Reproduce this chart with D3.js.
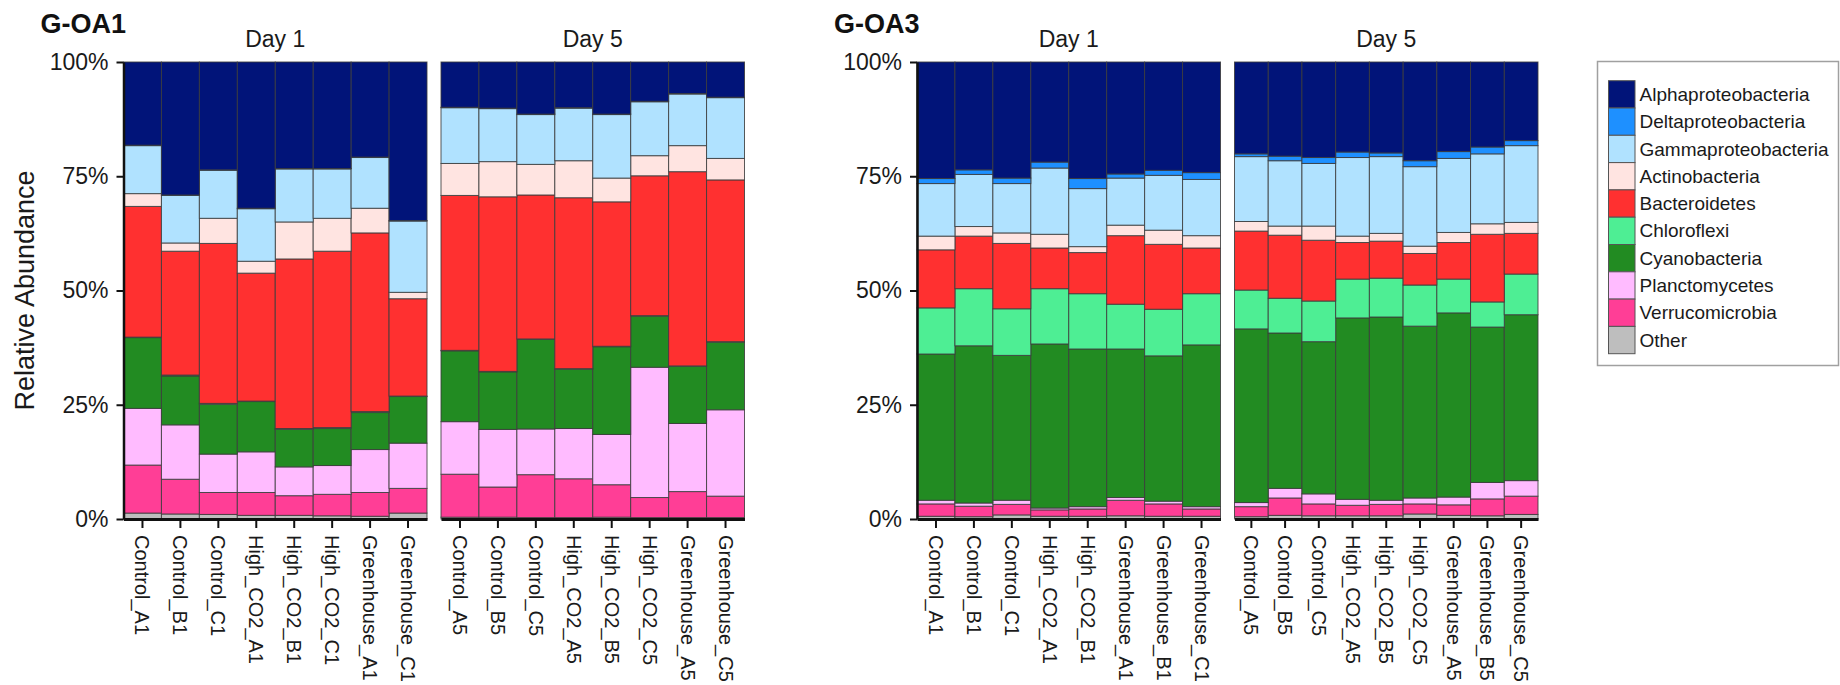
<!DOCTYPE html>
<html>
<head>
<meta charset="utf-8">
<script src="https://cdn.jsdelivr.net/npm/d3@7"></script>
<style>
  html, body { margin: 0; padding: 0; background: #fff; }
  svg { display: block; font-family: "Liberation Sans", Arial, Helvetica, sans-serif; }
</style>
</head>
<body>
<svg id="chart" width="1840" height="685"></svg>
<script>
// Taxa, listed top of legend first (top of each stacked bar first)
const taxa = ["Alphaproteobacteria", "Deltaproteobacteria", "Gammaproteobacteria", "Actinobacteria",
  "Bacteroidetes", "Chloroflexi", "Cyanobacteria", "Planctomycetes", "Verrucomicrobia", "Other"];
const taxaColors = ["#011479", "#1e90ff", "#b0e2ff", "#ffe4e1", "#ff3030",
  "#4eee94", "#228b22", "#ffbbff", "#ff3e96", "#bebebe"];

const yTicks = [0, 25, 50, 75, 100];
const yTickLabels = ["0%", "25%", "50%", "75%", "100%"];

// Sample names per panel
const oa1Day1Samples = ["Control_A1", "Control_B1", "Control_C1", "High_CO2_A1", "High_CO2_B1", "High_CO2_C1", "Greenhouse_A1", "Greenhouse_C1"];
const oa1Day5Samples = ["Control_A5", "Control_B5", "Control_C5", "High_CO2_A5", "High_CO2_B5", "High_CO2_C5", "Greenhouse_A5", "Greenhouse_C5"];
const oa3Day1Samples = ["Control_A1", "Control_B1", "Control_C1", "High_CO2_A1", "High_CO2_B1", "Greenhouse_A1", "Greenhouse_B1", "Greenhouse_C1"];
const oa3Day5Samples = ["Control_A5", "Control_B5", "Control_C5", "High_CO2_A5", "High_CO2_B5", "High_CO2_C5", "Greenhouse_A5", "Greenhouse_B5", "Greenhouse_C5"];

// Relative abundance (%) per sample, values in taxa order
const oa1Day1 = [
  [18.2, 0.1, 10.5, 2.8, 28.6, 0.1, 15.5, 12.4, 10.5, 1.3],
  [29.1, 0.1, 10.4, 1.8, 27.1, 0.2, 10.7, 11.9, 7.6, 1.1],
  [23.6, 0.1, 10.5, 5.5, 35.0, 0.2, 10.9, 8.4, 4.8, 1.0],
  [32.0, 0.1, 11.5, 2.6, 28.0, 0.1, 11.0, 8.9, 5.0, 0.8],
  [23.3, 0.1, 11.6, 8.1, 37.1, 0.2, 8.2, 6.3, 4.3, 0.8],
  [23.3, 0.1, 10.8, 7.2, 38.6, 0.2, 8.1, 6.3, 4.7, 0.7],
  [20.8, 0.1, 11.1, 5.4, 39.1, 0.2, 8.1, 9.4, 5.2, 0.6],
  [34.7, 0.1, 15.6, 1.4, 21.3, 0.1, 10.2, 9.9, 5.4, 1.3]
];
const oa1Day5 = [
  [9.9, 0.1, 12.2, 7.0, 33.9, 0.1, 15.5, 11.5, 9.4, 0.4],
  [10.1, 0.1, 11.6, 7.7, 38.2, 0.1, 12.6, 12.6, 6.6, 0.4],
  [11.4, 0.1, 10.9, 6.7, 31.5, 0.1, 19.6, 10.0, 9.4, 0.3],
  [10.0, 0.1, 11.5, 8.1, 37.4, 0.1, 13.0, 11.0, 8.5, 0.3],
  [11.4, 0.1, 13.9, 5.2, 31.6, 0.1, 19.2, 11.0, 7.1, 0.4],
  [8.6, 0.1, 11.8, 4.4, 30.6, 0.1, 11.2, 28.5, 4.4, 0.3],
  [6.9, 0.1, 11.3, 5.7, 42.5, 0.1, 12.5, 14.9, 5.7, 0.3],
  [7.7, 0.1, 13.3, 4.7, 35.4, 0.1, 14.8, 18.9, 4.7, 0.3]
];
const oa3Day1 = [
  [25.5, 1.1, 11.5, 3.0, 12.7, 10.1, 32.0, 0.8, 2.7, 0.6],
  [23.6, 1.0, 11.4, 2.1, 11.5, 12.5, 34.4, 0.7, 2.3, 0.5],
  [25.4, 1.2, 10.8, 2.3, 14.3, 10.2, 31.7, 0.9, 2.3, 0.9],
  [21.9, 1.3, 14.5, 3.0, 8.9, 12.1, 35.9, 0.4, 1.4, 0.6],
  [25.5, 2.2, 12.7, 1.3, 9.0, 12.1, 34.5, 0.5, 1.6, 0.6],
  [24.5, 0.9, 10.3, 2.3, 15.0, 9.8, 32.5, 0.6, 3.4, 0.7],
  [23.7, 1.1, 12.0, 3.1, 14.2, 10.2, 31.8, 0.6, 2.7, 0.6],
  [24.2, 1.5, 12.3, 2.7, 10.0, 11.2, 35.4, 0.5, 1.6, 0.6]
];
const oa3Day5 = [
  [20.1, 0.6, 14.2, 2.1, 12.9, 8.5, 38.0, 0.9, 2.2, 0.5],
  [20.6, 1.0, 14.3, 2.0, 13.8, 7.6, 34.0, 2.1, 3.8, 0.8],
  [20.9, 1.3, 13.7, 3.1, 13.3, 8.9, 33.3, 2.2, 2.6, 0.7],
  [19.7, 1.2, 17.2, 1.4, 8.0, 8.5, 39.7, 1.3, 2.3, 0.7],
  [19.9, 0.8, 16.8, 1.7, 8.1, 8.5, 40.1, 0.9, 2.5, 0.7],
  [21.6, 1.3, 17.4, 1.6, 6.9, 9.0, 37.6, 1.3, 2.2, 1.1],
  [19.6, 1.5, 16.2, 2.2, 8.0, 7.4, 40.3, 1.7, 2.3, 0.8],
  [18.6, 1.5, 15.3, 2.3, 14.8, 5.5, 34.0, 3.6, 3.7, 0.7],
  [17.2, 1.1, 16.8, 2.4, 8.9, 8.9, 36.3, 3.4, 4.0, 1.0]
];

const svg = d3.select("#chart");
const plotTop = 62, plotBottom = 519, panelW = 303.5, panelGap = 14;
const color = d3.scaleOrdinal().domain(taxa).range(taxaColors);
const y = d3.scaleLinear().domain([0, 100]).range([plotBottom, plotTop]);
// Stack bottom-up: Other first, Alphaproteobacteria last
const stack = d3.stack().keys(taxa.slice().reverse());

function drawPanel(g, x0, label, samples, rows) {
  const x = d3.scaleBand().domain(samples).range([x0, x0 + panelW]).padding(0);
  const records = rows.map((r, i) => {
    const o = { sample: samples[i] };
    taxa.forEach((t, j) => { o[t] = r[j]; });
    return o;
  });
  const series = stack(records);

  g.append("g").selectAll("g").data(series).join("g")
    .attr("fill", d => color(d.key))
    .selectAll("rect").data(d => d).join("rect")
    .attr("x", d => x(d.data.sample))
    .attr("width", x.bandwidth())
    .attr("y", d => y(d[1]))
    .attr("height", d => y(d[0]) - y(d[1]))
    .attr("stroke", "#3c3c3c")
    .attr("stroke-opacity", 0.85)
    .attr("stroke-width", 1);

  // x axis with rotated sample names
  const ax = g.append("g").attr("transform", `translate(0,${plotBottom})`)
    .call(d3.axisBottom(x).tickSize(9).tickPadding(0).tickSizeOuter(0));
  ax.select(".domain").attr("stroke", "#111").attr("stroke-width", 3);
  ax.selectAll(".tick line").attr("stroke", "#111").attr("stroke-width", 2);
  ax.selectAll(".tick text")
    .attr("fill", "#1a1a1a")
    .attr("font-size", 20)
    .attr("text-anchor", "start")
    .attr("transform", "translate(0,16) rotate(90)")
    .attr("x", 0).attr("y", 0).attr("dy", "0.35em");

  g.append("text")
    .attr("x", x0 + panelW / 2).attr("y", 47)
    .attr("text-anchor", "middle")
    .attr("font-size", 23).attr("fill", "#1a1a1a")
    .text(label);
}

function drawGroup(x0, title, p1, p2, withYTitle) {
  const g = svg.append("g");
  drawPanel(g, x0, "Day 1", p1.samples, p1.rows);
  drawPanel(g, x0 + panelW + panelGap, "Day 5", p2.samples, p2.rows);

  const ay = g.append("g").attr("transform", `translate(${x0},0)`)
    .call(d3.axisLeft(y).tickValues(yTicks).tickFormat((d, i) => yTickLabels[i])
      .tickSize(7).tickPadding(8).tickSizeOuter(0));
  ay.select(".domain").attr("stroke", "#111").attr("stroke-width", 2.5);
  ay.selectAll(".tick line").attr("stroke", "#111").attr("stroke-width", 2);
  ay.selectAll(".tick text").attr("font-size", 23).attr("fill", "#1a1a1a");

  g.append("text")
    .attr("x", x0 - 83).attr("y", 33)
    .attr("font-size", 27).attr("font-weight", "bold").attr("fill", "#111")
    .text(title);

  if (withYTitle) {
    g.append("text")
      .attr("transform", `translate(34,${(plotTop + plotBottom) / 2}) rotate(-90)`)
      .attr("text-anchor", "middle")
      .attr("font-size", 27).attr("fill", "#1a1a1a")
      .text("Relative Abundance");
  }
}

drawGroup(123.5, "G-OA1",
  { samples: oa1Day1Samples, rows: oa1Day1 },
  { samples: oa1Day5Samples, rows: oa1Day5 }, true);
drawGroup(917, "G-OA3",
  { samples: oa3Day1Samples, rows: oa3Day1 },
  { samples: oa3Day5Samples, rows: oa3Day5 }, false);

// Legend
const legend = svg.append("g");
legend.append("rect")
  .attr("x", 1597.5).attr("y", 61.5).attr("width", 241).attr("height", 304)
  .attr("fill", "#fff").attr("stroke", "#a0a0a0").attr("stroke-width", 1.5);
const sw = 27.3;
const items = legend.selectAll("g.item").data(taxa).join("g")
  .attr("class", "item")
  .attr("transform", (d, i) => `translate(1608.5,${80.7 + i * sw})`);
items.append("rect")
  .attr("width", 26.5).attr("height", sw)
  .attr("fill", d => color(d))
  .attr("stroke", "#555").attr("stroke-width", 1);
items.append("text")
  .attr("x", 31).attr("y", sw / 2).attr("dy", "0.35em")
  .attr("font-size", 19).attr("fill", "#1a1a1a")
  .text(d => d);
</script>
</body>
</html>
